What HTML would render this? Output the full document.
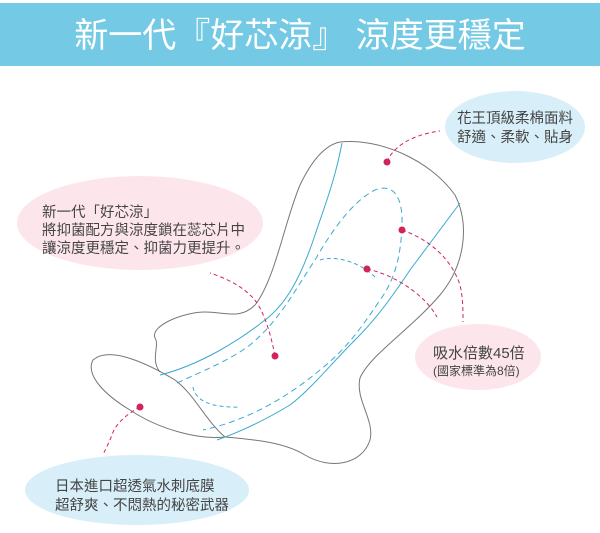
<!DOCTYPE html>
<html><head><meta charset="utf-8"><style>
body{margin:0;width:600px;height:528px;background:#fff;overflow:hidden;font-family:"Liberation Sans","Noto Sans CJK TC",sans-serif}
</style></head><body>
<svg width="600" height="528" viewBox="0 0 600 528" xmlns="http://www.w3.org/2000/svg" font-family="Liberation Sans, Noto Sans CJK TC, sans-serif">
<rect x="0" y="3" width="600" height="63" fill="#74CAE4"/>
<text x="300" y="47" fill="#fff" font-size="34" text-anchor="middle">新一代『好芯涼』 涼度更穩定</text>

<ellipse cx="515" cy="127" rx="70" ry="36" fill="#D8EFF9"/>
<ellipse cx="140" cy="223" rx="123" ry="47" fill="#FCE6EC"/>
<ellipse cx="478" cy="357" rx="63" ry="33" fill="#FCE6EC"/>
<ellipse cx="137" cy="490" rx="112" ry="35" fill="#D8EFF9"/>

<g font-size="14.5" fill="#444">
<text x="457" y="123">花王頂級柔棉面料</text>
<text x="457" y="142">舒適、柔軟、貼身</text>
<text x="42" y="217">新一代「好芯涼」</text>
<text x="42" y="235">將抑菌配方與涼度鎖在蕊芯片中</text>
<text x="42" y="253">讓涼度更穩定、抑菌力更提升。</text>
<text x="433" y="358" font-size="15">吸水倍數45倍</text>
<text x="433" y="375" font-size="12">(國家標準為8倍)</text>
<text x="55" y="491">日本進口超透氣水刺底膜</text>
<text x="55" y="510">超舒爽、不悶熱的秘密武器</text>
</g>

<g fill="none" stroke="#777" stroke-width="1">
<path d="M340,142 C380,138 430,160 455,195 C470,225 465,265 440,295 C410,330 370,355 360,378 C355,400 375,420 370,440 C362,465 330,470 305,455 C285,443 260,440 225,437"/>
<path d="M93,360 C110,345 150,365 175,380 C195,395 205,420 225,437 C200,440 160,430 130,410 C105,395 85,375 93,360 Z"/>
<path d="M160,372 C150,360 160,345 155,338 C150,325 185,312 205,312 C225,312 240,320 255,305 C275,280 285,220 300,185 C312,160 325,145 340,142"/>
</g>
<g fill="none" stroke="#3AA9D0" stroke-width="1">
<path d="M342,143 C335,180 325,205 315,235 C300,280 285,305 265,320 C240,340 200,365 160,375"/>
<path d="M460,203 C440,230 425,250 410,270 C390,300 375,320 355,340 C330,365 310,390 290,405 C265,420 240,432 217,440"/>
</g>
<g fill="none" stroke="#3AA9D0" stroke-width="1" stroke-dasharray="6,4">
<path d="M177,383 C205,370 230,360 250,345 C280,320 295,290 315,260 C335,225 355,200 375,190 C395,182 403,200 402,225 C401,255 395,280 380,300 C360,330 345,350 320,370 C290,395 250,420 203,430"/>
</g>
<g fill="none" stroke="#3AA9D0" stroke-width="1" stroke-dasharray="4,3">
<path d="M193,387 C195,400 210,408 240,407"/>
<path d="M320,260 C335,255 360,262 375,277"/>
</g>
<g fill="none" stroke="#D1245A" stroke-width="1" stroke-dasharray="4,3">
<path d="M387,162 C392,148 410,135 440,131"/>
<path d="M402,230 C425,238 450,255 460,285 C463,298 463,310 463,322"/>
<path d="M367,269 C395,275 425,295 437,317"/>
<path d="M275,356 C270,330 262,305 250,295 C240,285 225,278 210,273"/>
<path d="M140,407 C125,415 115,425 112,435 C108,445 105,450 103,455"/>
</g>
<g fill="#D1245A">
<circle cx="387" cy="162" r="3.5"/>
<circle cx="402" cy="230" r="3.5"/>
<circle cx="367" cy="269" r="3.5"/>
<circle cx="275" cy="356" r="3.5"/>
<circle cx="140" cy="407" r="3.5"/>
</g>
</svg>
</body></html>
